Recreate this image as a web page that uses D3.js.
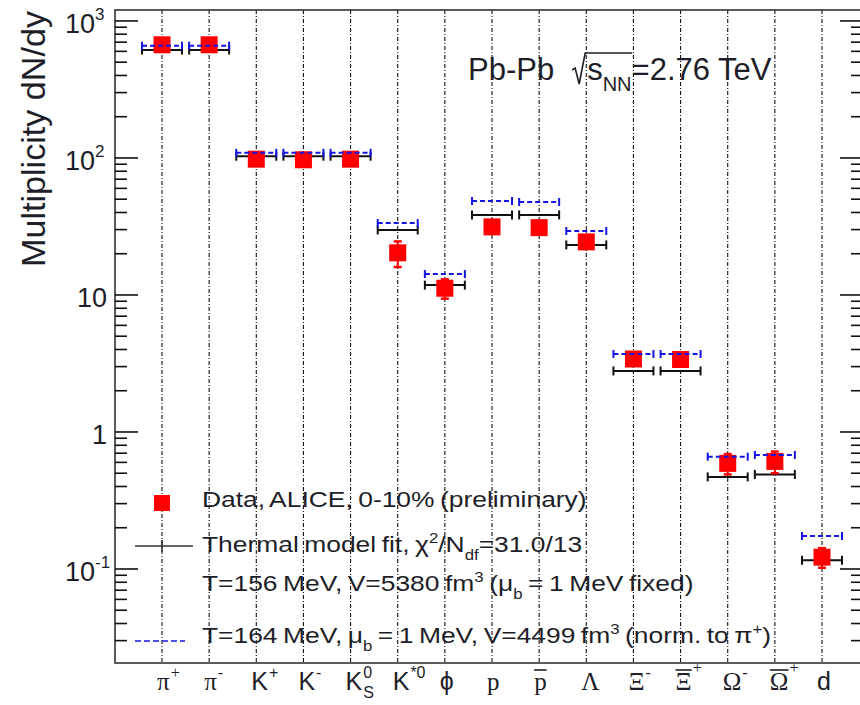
<!DOCTYPE html>
<html>
<head>
<meta charset="utf-8">
<script src="https://cdn.jsdelivr.net/npm/d3@7"></script>
<style>
  body { margin: 0; background: #fff; }
  text { font-family: "Liberation Sans", Arial, sans-serif; fill: #1e1e28; }
</style>
</head>
<body>
<div id="chart"></div>
<script>
// particle species on the x axis
var particles = ["pi+", "pi-", "K+", "K-", "K0s", "K*0", "phi", "p", "pbar",
  "Lambda", "Xi-", "Xi+", "Omega-", "Omega+", "d"];

// ALICE data, 0-10%
var dataValues = [670, 670, 98, 97, 98, 20.3, 11.2, 31.4, 31.0, 24.4, 3.41, 3.38, 0.59, 0.61, 0.122];
var dataErrors = [40, 40, 6, 6, 6, 4.3, 1.8, 2.5, 2.5, 2.5, 0.3, 0.3, 0.1, 0.11, 0.02];

// thermal model, T=156 MeV fit (black) and T=164 MeV (blue dashed)
var fit156 = [614, 614, 103, 103, 103, 29.8, 11.8, 38.4, 38.4, 23.2, 2.79, 2.79, 0.47, 0.49, 0.116];
var fit164 = [660, 660, 109, 109, 109, 33.5, 14.2, 48.5, 47.7, 29.3, 3.71, 3.71, 0.66, 0.68, 0.174];

// tick labels
var particleLabels = [
  {base: "π", sup: "+", serif: true},
  {base: "π", sup: "-", serif: true},
  {base: "K", sup: "+"},
  {base: "K", sup: "-"},
  {base: "K", sup: "0", sub: "S"},
  {base: "K", sup: "*0"},
  {base: "ϕ"},
  {base: "p", serif: true},
  {base: "p", bar: true, serif: true},
  {base: "Λ", serif: true},
  {base: "Ξ", sup: "-", serif: true},
  {base: "Ξ", sup: "+", bar: true, serif: true},
  {base: "Ω", sup: "-", serif: true},
  {base: "Ω", sup: "+", bar: true, serif: true},
  {base: "d"}
];
var yTickValues = [0.1, 1, 10, 100, 1000];
var yTickBases = ["10", "1", "10", "10", "10"];
var yTickExps = ["-1", "", "", "2", "3"];

var legendTexts = [
  [{t: "Data, ALICE, 0-10% (preliminary)"}],
  [{t: "Thermal model fit, χ"}, {t: "2", s: "sup"}, {t: "/N"}, {t: "df", s: "sub"}, {t: "=31.0/13"}],
  [{t: "T=156 MeV, V=5380 fm"}, {t: "3", s: "sup"}, {t: " (μ"}, {t: "b", s: "sub"}, {t: " = 1 MeV fixed)"}],
  [{t: "T=164 MeV, μ"}, {t: "b", s: "sub"}, {t: " = 1 MeV, V=4499 fm"}, {t: "3", s: "sup"}, {t: " (norm. to π"}, {t: "+", s: "sup"}, {t: ")"}]
];

var svgWidth = 860;
var svgHeight = 705;
var frame = {left: 115, top: 10, right: 863, bottom: 663};

var svg = d3.select("#chart")
  .append("svg")
  .attr("width", svgWidth)
  .attr("height", svgHeight);

var x = d3.scalePoint()
  .domain(particles)
  .range([frame.left + 47, frame.right - 41]);

var y = d3.scaleLog()
  .domain([0.0206, 1202])
  .range([frame.bottom, frame.top]);

// vertical dash-dot lines through every species
svg.append("g")
  .selectAll("line")
  .data(particles)
  .enter()
  .append("line")
  .attr("x1", d => x(d))
  .attr("x2", d => x(d))
  .attr("y1", frame.top)
  .attr("y2", frame.bottom)
  .attr("stroke", "#111")
  .attr("stroke-width", 1.1)
  .attr("stroke-dasharray", "4,2,1,2");

// frame
svg.append("rect")
  .attr("x", frame.left)
  .attr("y", frame.top)
  .attr("width", frame.right - frame.left)
  .attr("height", frame.bottom - frame.top)
  .attr("fill", "none")
  .attr("stroke", "#333")
  .attr("stroke-width", 1.6);

// log ticks, left and right
var minorTicks = [];
[0.01, 0.1, 1, 10, 100].forEach(function(dec) {
  for (var k = 2; k <= 9; k++) {
    var v = k * dec;
    if (v > y.domain()[0] && v < y.domain()[1]) minorTicks.push(v);
  }
});

var tickGroup = svg.append("g").attr("stroke", "#111").attr("stroke-width", 1.6);
function drawTicks(values, len) {
  values.forEach(function(v) {
    tickGroup.append("line")
      .attr("x1", frame.left).attr("x2", frame.left + len)
      .attr("y1", y(v)).attr("y2", y(v));
    tickGroup.append("line")
      .attr("x1", frame.right).attr("x2", frame.right - len)
      .attr("y1", y(v)).attr("y2", y(v));
  });
}
drawTicks(yTickValues, 23);
drawTicks(minorTicks, 12);

// y tick labels
yTickValues.forEach(function(v, i) {
  var hasExp = yTickExps[i] !== "";
  var label = svg.append("text")
    .attr("x", hasExp ? 65 : 107)
    .attr("y", y(v) + 12)
    .attr("text-anchor", hasExp ? "start" : "end")
    .style("font-size", "27px")
    .text(yTickBases[i]);
  if (hasExp) {
    label.append("tspan")
      .attr("dy", -13)
      .style("font-size", "17px")
      .text(yTickExps[i]);
  }
});

// y axis title
svg.append("text")
  .attr("transform", "translate(45, 139) rotate(-90)")
  .attr("text-anchor", "middle")
  .attr("textLength", 256)
  .attr("lengthAdjust", "spacingAndGlyphs")
  .style("font-size", "34px")
  .text("Multiplicity dN/dy");

// x labels
particleLabels.forEach(function(lab, i) {
  var x0 = x(particles[i]) - 5;
  var family = lab.serif ? "'Liberation Serif', 'Times New Roman', serif" : "'Liberation Sans', Arial, sans-serif";
  var base = svg.append("text")
    .attr("x", x0)
    .attr("y", 690)
    .style("font-family", family)
    .style("font-size", "25px")
    .text(lab.base);
  var w = base.node().getComputedTextLength();
  if (lab.bar) {
    svg.append("line")
      .attr("x1", x0).attr("x2", x0 + w)
      .attr("y1", 670).attr("y2", 670)
      .attr("stroke", "#1e1e28").attr("stroke-width", 1.6);
  }
  if (lab.sup) {
    svg.append("text")
      .attr("x", x0 + w + 1)
      .attr("y", lab.bar ? 673 : 678)
      .style("font-family", family)
      .style("font-size", "16px")
      .text(lab.sup);
  }
  if (lab.sub) {
    svg.append("text")
      .attr("x", x0 + w + 1)
      .attr("y", 698)
      .style("font-size", "16px")
      .text(lab.sub);
  }
});

// thermal model T=156 (black, solid)
var half = 20;
var fitGroup = svg.append("g").attr("stroke", "#111").attr("stroke-width", 2);
fit156.forEach(function(v, i) {
  var cx = x(particles[i]);
  fitGroup.append("line").attr("x1", cx - half).attr("x2", cx + half).attr("y1", y(v)).attr("y2", y(v));
  fitGroup.append("line").attr("x1", cx - half).attr("x2", cx - half).attr("y1", y(v) - 4.5).attr("y2", y(v) + 4.5);
  fitGroup.append("line").attr("x1", cx + half).attr("x2", cx + half).attr("y1", y(v) - 4.5).attr("y2", y(v) + 4.5);
});

// data error bars and markers
var dataGroup = svg.append("g");
dataValues.forEach(function(v, i) {
  var cx = x(particles[i]);
  var hi = y(v + dataErrors[i]);
  var lo = y(v - dataErrors[i]);
  dataGroup.append("line").attr("x1", cx).attr("x2", cx).attr("y1", hi).attr("y2", lo)
    .attr("stroke", "#f00").attr("stroke-width", 2);
  [hi, lo].forEach(function(yy) {
    dataGroup.append("line").attr("x1", cx - 4).attr("x2", cx + 4).attr("y1", yy).attr("y2", yy)
      .attr("stroke", "#f00").attr("stroke-width", 2.5);
  });
});
dataGroup.selectAll("rect")
  .data(dataValues)
  .enter()
  .append("rect")
  .attr("x", (d, i) => x(particles[i]) - 8.5)
  .attr("y", d => y(d) - 8.5)
  .attr("width", 17)
  .attr("height", 17)
  .attr("fill", "#f00");

// thermal model T=164 (blue, dashed)
var blueGroup = svg.append("g").attr("stroke", "#1515e6").attr("stroke-width", 2);
fit164.forEach(function(v, i) {
  var cx = x(particles[i]);
  blueGroup.append("line").attr("x1", cx - half).attr("x2", cx + half).attr("y1", y(v)).attr("y2", y(v))
    .attr("stroke-dasharray", "5,3");
  blueGroup.append("line").attr("x1", cx - half).attr("x2", cx - half).attr("y1", y(v) - 4).attr("y2", y(v) + 4);
  blueGroup.append("line").attr("x1", cx + half).attr("x2", cx + half).attr("y1", y(v) - 4).attr("y2", y(v) + 4);
});

// legend
var legX = x(particles[0]);
svg.append("rect")
  .attr("x", legX - 8).attr("y", 495)
  .attr("width", 16).attr("height", 16)
  .attr("fill", "#f00");
svg.append("line")
  .attr("x1", legX - 27).attr("x2", legX + 31)
  .attr("y1", 546).attr("y2", 546)
  .attr("stroke", "#333").attr("stroke-width", 1.6);
svg.append("line")
  .attr("x1", legX).attr("x2", legX)
  .attr("y1", 540).attr("y2", 552)
  .attr("stroke", "#333").attr("stroke-width", 1.6);
svg.append("line")
  .attr("x1", legX - 27).attr("x2", legX + 23)
  .attr("y1", 641).attr("y2", 641)
  .attr("stroke", "#1515e6").attr("stroke-width", 1.3)
  .attr("stroke-dasharray", "6,3");

var legendBaselines = [507, 552, 591, 643];
function richText(sel, parts) {
  var shift = 0;
  parts.forEach(function(p) {
    var target = p.s === "sup" ? -9 : (p.s === "sub" ? 8 : 0);
    sel.append("tspan")
      .attr("dy", target - shift)
      .style("font-size", p.s ? "14px" : "22px")
      .text(p.t);
    shift = target;
  });
}
legendTexts.forEach(function(parts, i) {
  var t = svg.append("text")
    .attr("transform", `translate(202, ${legendBaselines[i]}) scale(1.2, 1)`)
    .style("font-size", "22px")
    .style("word-spacing", "-1.5px");
  richText(t, parts);
});

// collision system label
var sysY = 80;
var pb = svg.append("text")
  .attr("x", 468).attr("y", sysY)
  .style("font-size", "31px")
  .text("Pb-Pb");
var rx = 468 + pb.node().getComputedTextLength() + 18;
svg.append("path")
  .attr("d", `M${rx},${sysY - 10} L${rx + 3},${sysY - 12} L${rx + 7},${sysY + 4} L${rx + 13},${sysY - 27} L${rx + 60},${sysY - 27}`)
  .attr("fill", "none")
  .attr("stroke", "#1e1e28")
  .attr("stroke-width", 1.6);
var s = svg.append("text")
  .attr("x", rx + 15).attr("y", sysY)
  .style("font-size", "31px")
  .text("s");
var nnX = rx + 15 + s.node().getComputedTextLength();
var nn = svg.append("text")
  .attr("x", nnX).attr("y", sysY + 11)
  .style("font-size", "20px")
  .text("NN");
svg.append("text")
  .attr("x", nnX + nn.node().getComputedTextLength()).attr("y", sysY)
  .style("font-size", "31px")
  .text("=2.76 TeV");
</script>
</body>
</html>
